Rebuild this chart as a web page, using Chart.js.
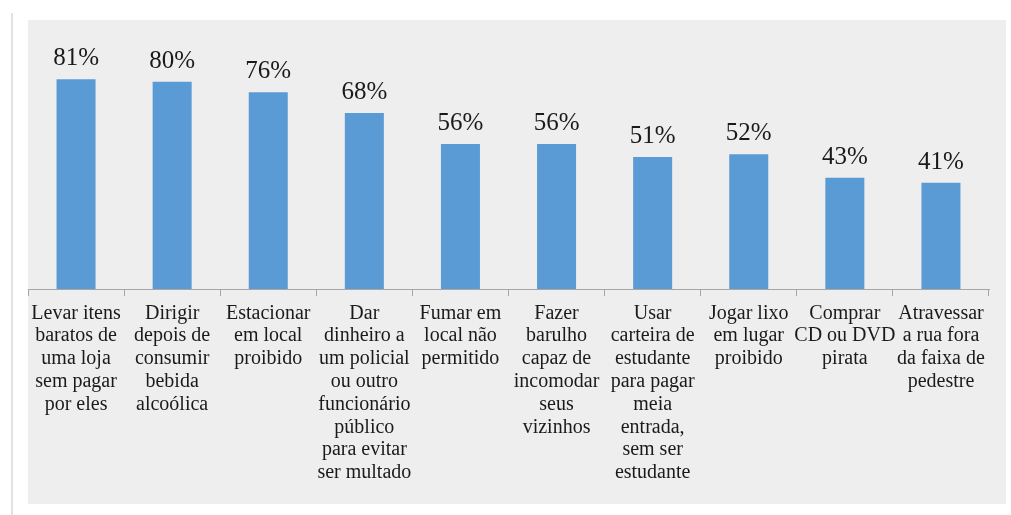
<!DOCTYPE html>
<html>
<head>
<meta charset="utf-8">
<script src="https://cdn.jsdelivr.net/npm/chart.js@4"></script>
<style>
  html,body{margin:0;padding:0;background:#fff;width:1011px;height:515px;overflow:hidden;}
  #edge{position:absolute;left:11px;top:13px;width:2px;height:502px;background:#e2e2e2;}
  #panel{position:absolute;left:28px;top:20px;width:978px;height:484px;background:#eeeeee;}
</style>
</head>
<body>
<div id="edge"></div>
<div id="panel"><canvas id="c" width="978" height="484"></canvas></div>
<script>
// categories (wrapped the same way as the original)
const categories = [
  ["Levar itens","baratos de","uma loja","sem pagar","por eles"],
  ["Dirigir","depois de","consumir","bebida","alcoólica"],
  ["Estacionar","em local","proibido"],
  ["Dar","dinheiro a","um policial","ou outro","funcionário","público","para evitar","ser multado"],
  ["Fumar em","local não","permitido"],
  ["Fazer","barulho","capaz de","incomodar","seus","vizinhos"],
  ["Usar","carteira de","estudante","para pagar","meia","entrada,","sem ser","estudante"],
  ["Jogar lixo","em lugar","proibido"],
  ["Comprar","CD ou DVD","pirata"],
  ["Atravessar","a rua fora","da faixa de","pedestre"]
];
const percents = [81, 80, 76, 68, 56, 56, 51, 52, 43, 41];

const FONT = "'Liberation Serif', 'Times New Roman', serif";

// draws the "81%" labels above each bar
const valueLabels = {
  id: "valueLabels",
  afterDatasetsDraw(chart){
    const ctx = chart.ctx, meta = chart.getDatasetMeta(0);
    ctx.save();
    ctx.font = "25px " + FONT;
    ctx.fillStyle = "#1a1a1a";
    ctx.textAlign = "center";
    ctx.textBaseline = "alphabetic";
    meta.data.forEach((bar, i) => ctx.fillText(percents[i] + "%", bar.x, bar.y - 14));
    ctx.restore();
  }
};

new Chart(document.getElementById("c"), {
  type: "bar",
  data: { labels: categories,
    datasets: [{ data: percents, backgroundColor: "#5b9bd5", borderWidth: 0,
      barPercentage: 0.406, categoryPercentage: 1 }] },
  options: {
    responsive: false, animation: false,
    layout: { padding: { left: 0, right: 17, top: 10, bottom: 0 } },
    plugins: { legend: { display: false }, tooltip: { enabled: false } },
    scales: {
      y: { display: false, min: 0, max: 100 },
      x: {
        afterFit(s){ s.height = 215; s.paddingLeft = 0; s.paddingRight = 0; },
        grid: { display: true, drawOnChartArea: false, drawTicks: true, tickLength: 7, color: "#a6a6a6", offset: true },
        border: { display: true, color: "#a6a6a6", width: 1 },
        ticks: { color: "#1a1a1a", padding: 6, maxRotation: 0, autoSkip: false,
          font: { family: FONT, size: 20, lineHeight: 1.14 } }
      }
    }
  },
  plugins: [valueLabels]
});
</script>
</body>
</html>
